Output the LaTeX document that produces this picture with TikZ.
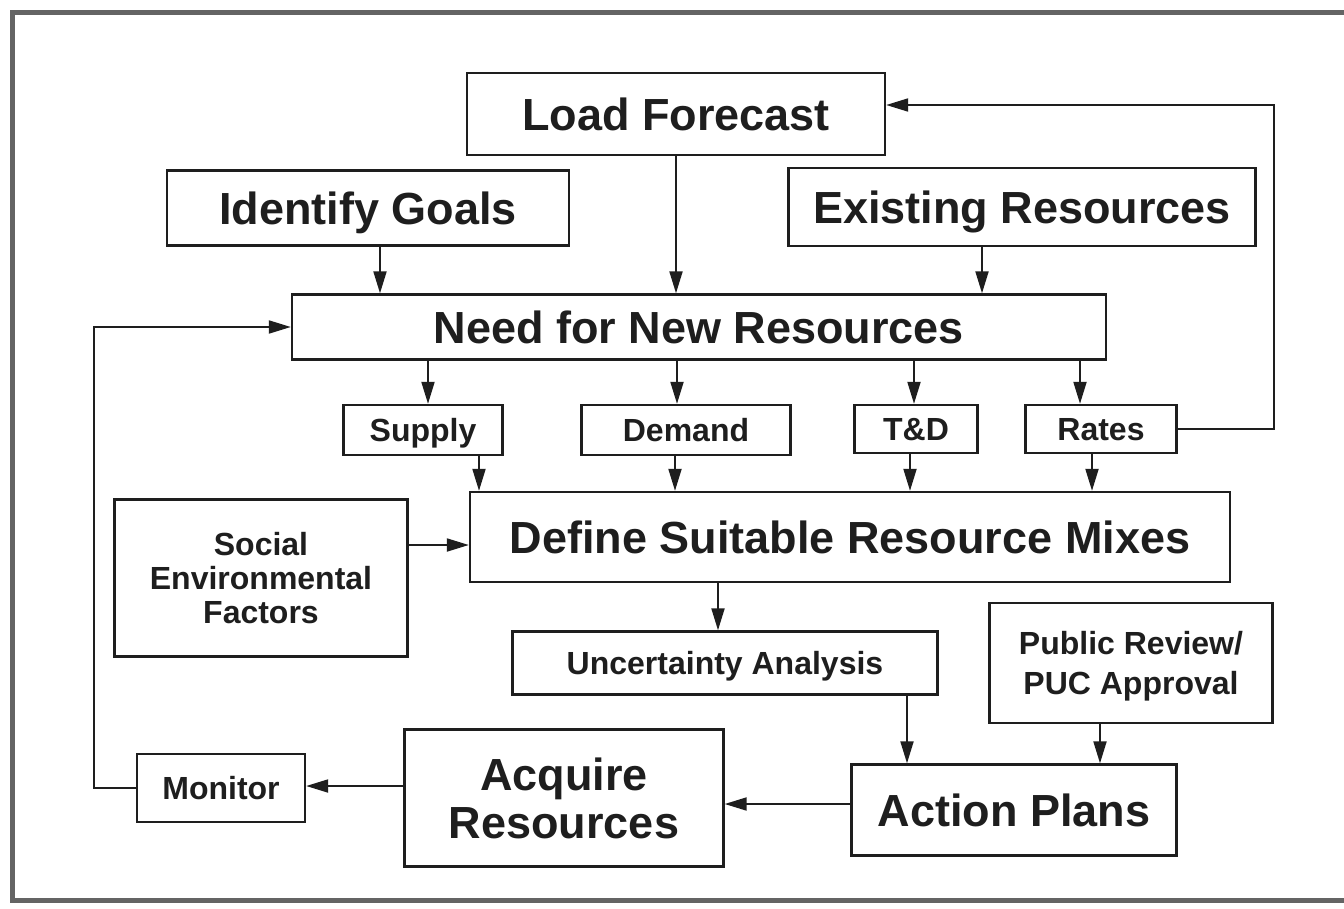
\documentclass[tikz,border=0pt]{standalone}
\usepackage{fontspec}
\setmainfont{Liberation Sans}
\usetikzlibrary{arrows.meta, calc}
\definecolor{ink}{RGB}{30,30,30}
\definecolor{rim}{RGB}{100,100,100}

\begin{document}
\begin{tikzpicture}[x=1pt, y=-1pt,
        big/.style={draw=ink, line width=2.4pt, inner sep=0pt, align=center, text=ink, text depth=0pt, font=\fontsize{45}{48}\selectfont\bfseries},
        small/.style={draw=ink, line width=2.4pt, inner sep=0pt, align=center, text=ink, text depth=0pt, font=\fontsize{32}{34}\selectfont\bfseries},
        arr/.style={-{Triangle[length=22pt, width=13pt]}, line width=2pt, draw=ink}]
      \useasboundingbox (0,0) rectangle (1344,908);
      \fill[white] (0,0) rectangle (1344,908);
      % outer frame, open on the right
      \draw[rim, line width=5pt] (1344,12) -- (12,12) -- (12,900) -- (1344,900);

      % top row
      \node[big, minimum width=418, minimum height=82] (load) at (676,114) {Load Forecast};
      \node[big, minimum width=402, minimum height=75] (goals) at (368,208) {Identify Goals};
      \node[big, minimum width=467, minimum height=78] (existing) at (1022,207) {Existing Resources};
      \node[big, minimum width=814, minimum height=65] (need) at (699,327) {Need for New Resources};

      % resource categories
      \node[small, minimum width=159, minimum height=50] (supply) at (423,430) {Supply};
      \node[small, minimum width=209, minimum height=50] (demand) at (686,430) {Demand};
      \node[small, minimum width=123, minimum height=48] (td) at (916,429) {T\&D};
      \node[small, minimum width=151, minimum height=48] (rates) at (1101,429) {Rates};

      \node[big, minimum width=760, minimum height=90] (mixes) at (850,537) {Define Suitable Resource Mixes};
      \node[small, minimum width=293, minimum height=157] (social) at (261,578) {Social\\Environmental\\Factors};
      \node[small, minimum width=425, minimum height=63] (unc) at (725,663) {Uncertainty Analysis};
      \node[small, minimum width=283, minimum height=120, font=\fontsize{32}{40}\selectfont\bfseries] (public) at (1131,663) {Public Review/\\PUC Approval};

      % bottom row
      \node[small, minimum width=168, minimum height=68] (monitor) at (221,788) {Monitor};
      \node[big, minimum width=319, minimum height=137] (acquire) at (564,798) {Acquire\\Resources};
      \node[big, minimum width=325, minimum height=91] (plans) at (1014,810) {Action Plans};

      \draw[arr] ($(goals.south)+(12,0)$) -- ($(goals.south |- need.north)+(12,0)$);
      \draw[arr] (load.south) -- (load.south |- need.north);
      \draw[arr] ($(existing.south)+(-40,0)$) -- ($(existing.south |- need.north)+(-40,0)$);

      % need -> category -> mixes
      \foreach \n/\a/\b in {supply/5/56, demand/-9/-11, td/-2/-6, rates/-21/-9} {
        \draw[arr] ($(\n.north |- need.south)+(\a,0)$) -- ($(\n.north)+(\a,0)$);
        \draw[arr] ($(\n.south)+(\b,0)$) -- ($(\n.south |- mixes.north)+(\b,0)$);
      }
      \draw[arr] (rates.east) -- ++(96,0) |- ($(load.east)+(0,-9)$);

      \draw[arr] ($(social.east |- mixes.west)+(0,8)$) -- ($(mixes.west)+(0,8)$);
      \draw[arr] ($(unc.north |- mixes.south)+(-7,0)$) -- ($(unc.north)+(-7,0)$);
      \draw[arr] ($(plans.north |- unc.south)+(-107,0)$) -- ($(plans.north)+(-107,0)$);
      \draw[arr] ($(public.south)+(-31,0)$) -- ($(public.south |- plans.north)+(-31,0)$);

      \draw[arr] ($(plans.west)+(0,-6)$) -- ($(plans.west -| acquire.east)+(0,-6)$);
      \draw[arr] ($(acquire.west)+(0,-12)$) -- ($(acquire.west -| monitor.east)+(0,-12)$);
      \draw[arr] (monitor.west) -- ++(-42,0) |- (need.west);
    \end{tikzpicture}
\end{document}
